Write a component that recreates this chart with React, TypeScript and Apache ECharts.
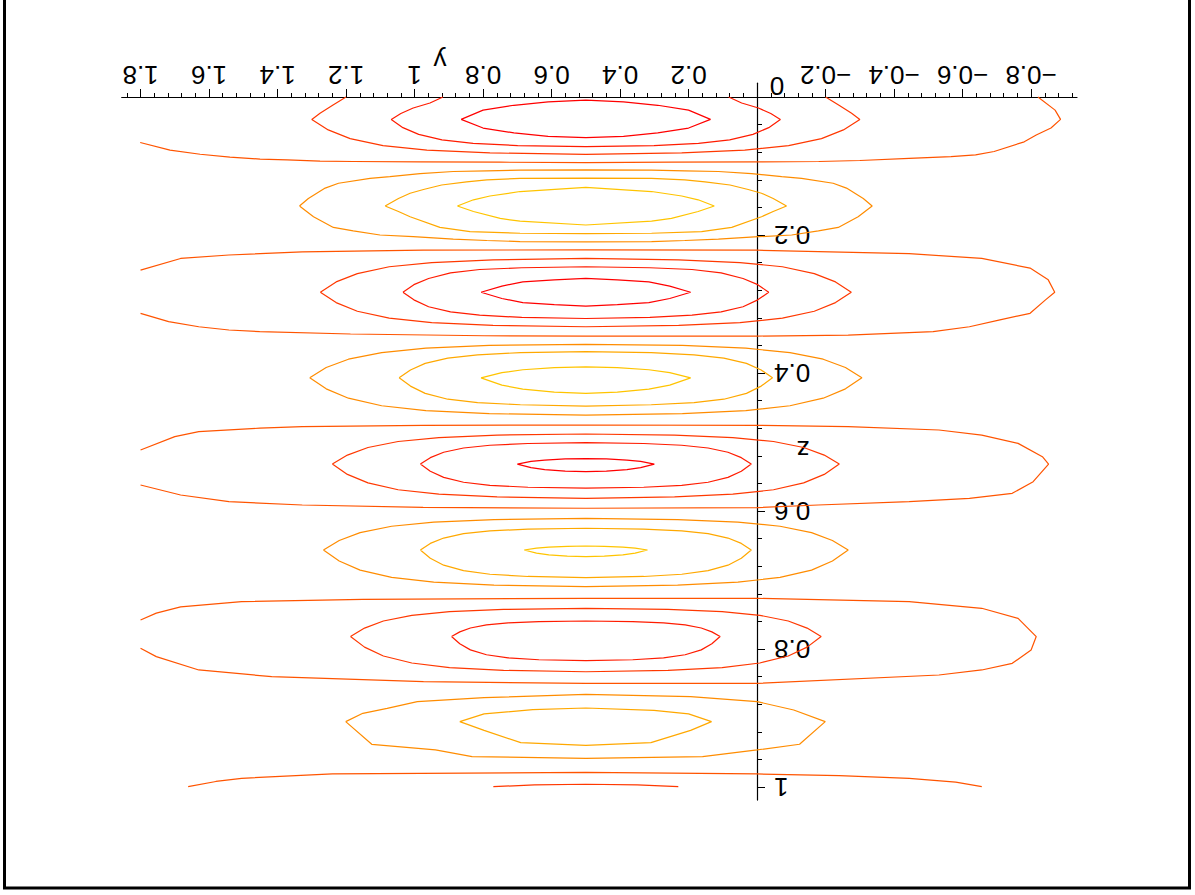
import React, { useEffect, useRef } from 'react';
import * as echarts from 'echarts';

const FONT = '"Liberation Sans", Arial, Helvetica, sans-serif';

// ---- axes (y horizontal, z vertical; whole plot shown rotated by 180 degrees)
const Y_MIN = -0.934;
const Y_MAX = 1.855;
const Z_MIN = -0.02;
const Z_MAX = 1.019;
const yMajorTicks = [-0.8, -0.6, -0.4, -0.2, 0, 0.2, 0.4, 0.6, 0.8, 1, 1.2, 1.4, 1.6, 1.8];
const yTickLabels = [-0.8, -0.6, -0.4, -0.2, 0.2, 0.4, 0.6, 0.8, 1, 1.2, 1.4, 1.6, 1.8];
const zMajorTicks = [0.2, 0.4, 0.6, 0.8, 1];
const zTickLabels = [0.2, 0.4, 0.6, 0.8, 1];
const yMinorTicks: number[] = [];
for (let i = -23; i <= 46; i++) yMinorTicks.push(+(i * 0.04).toFixed(2));
const zMinorTicks: number[] = [];
for (let i = 1; i <= 25; i++) zMinorTicks.push(+(i * 0.04).toFixed(2));

// ---- contour levels -> colours
const LEVEL_COLORS: Record<string, string> = {
  L1: '#ffc400',
  L2: '#ffa800',
  L3: '#ff8c00',
  L5: '#ff5400',
  L6: '#ff3800',
  L7: '#ff1c00',
  L8: '#ff0000',
};

// ---- contour polylines [y, z]
const B1_L8 = [[0.864,0.0325],[0.80,0.019],[0.71,0.012],[0.61,0.007],[0.5,0.0045],[0.39,0.007],[0.29,0.012],[0.20,0.019],[0.136,0.0325],[0.20,0.045],[0.29,0.052],[0.39,0.057],[0.5,0.059],[0.61,0.057],[0.71,0.052],[0.80,0.045],[0.864,0.0325]];
const B1_L7 = [[0.917,0],[0.955,0.0087],[1.004,0.016],[1.04,0.024],[1.068,0.0325],[1.034,0.0444],[0.988,0.0542],[0.92,0.0621],[0.829,0.0673],[0.699,0.0704],[0.5,0.072],[0.301,0.0704],[0.171,0.0673],[0.08,0.0621],[0.012,0.0542],[-0.034,0.0444],[-0.068,0.0325],[-0.04,0.024],[-0.004,0.016],[0.045,0.0087],[0.083,0]];
const B1_L6 = [[1.2,0],[1.238,0.0116],[1.276,0.0237],[1.3,0.0325],[1.252,0.0477],[1.188,0.0603],[1.092,0.0705],[0.964,0.077],[0.78,0.0811],[0.5,0.0831],[0.22,0.0811],[0.036,0.077],[-0.092,0.0705],[-0.188,0.0603],[-0.252,0.0477],[-0.3,0.0325],[-0.276,0.0237],[-0.238,0.0116],[-0.2,0]];
const B1_L5 = [[1.801,0.066],[1.714,0.077],[1.626,0.083],[1.539,0.087],[1.451,0.09],[1.372,0.091],[1.276,0.093],[1.18,0.0935],[0.984,0.094],[0.75,0.0945],[0.5,0.095],[0.25,0.0945],[0.0,0.094],[-0.18,0.0935],[-0.3,0.092],[-0.444,0.089],[-0.566,0.0865],[-0.638,0.084],[-0.692,0.079],[-0.78,0.065],[-0.815,0.055],[-0.858,0.045],[-0.886,0.0325],[-0.87,0.019],[-0.82,0]];

const B2_L3 = [[1.336,0.158],[1.31,0.147],[1.261,0.132],[1.222,0.125],[1.13,0.118],[1.072,0.1155],[0.984,0.111],[0.887,0.108],[0.789,0.107],[0.692,0.106],[0.5,0.1055],[0.308,0.106],[0.211,0.107],[0.113,0.108],[0.016,0.111],[-0.072,0.1155],[-0.13,0.118],[-0.222,0.125],[-0.261,0.132],[-0.31,0.147],[-0.336,0.158],[-0.295,0.1735],[-0.237,0.189],[-0.179,0.194],[-0.101,0.2],[-0.004,0.2025],[0.113,0.206],[0.211,0.208],[0.308,0.2095],[0.5,0.21],[0.692,0.2095],[0.789,0.208],[0.887,0.206],[1.004,0.2025],[1.101,0.2],[1.179,0.194],[1.237,0.189],[1.295,0.1735],[1.336,0.158]];
const B2_L2 = [[1.086,0.158],[1.047,0.147],[1.013,0.1395],[0.974,0.134],[0.921,0.1275],[0.848,0.123],[0.789,0.12],[0.692,0.118],[0.5,0.1175],[0.308,0.118],[0.211,0.12],[0.152,0.123],[0.079,0.1275],[0.026,0.134],[-0.013,0.1395],[-0.047,0.147],[-0.086,0.158],[-0.047,0.166],[-0.013,0.1735],[0.074,0.189],[0.162,0.195],[0.308,0.1975],[0.5,0.198],[0.692,0.1975],[0.838,0.195],[0.926,0.189],[1.013,0.1735],[1.047,0.166],[1.086,0.158]];
const B2_L1 = [[0.875,0.158],[0.828,0.149],[0.78,0.1435],[0.692,0.137],[0.5,0.131],[0.308,0.137],[0.22,0.1435],[0.172,0.149],[0.125,0.158],[0.172,0.166],[0.25,0.176],[0.308,0.18],[0.5,0.1855],[0.692,0.18],[0.75,0.176],[0.828,0.166],[0.875,0.158]];

const B3_L8 = [[0.806,0.283],[0.745,0.274],[0.684,0.268],[0.592,0.265],[0.5,0.263],[0.408,0.265],[0.316,0.268],[0.255,0.274],[0.194,0.283],[0.255,0.292],[0.316,0.298],[0.408,0.301],[0.5,0.303],[0.592,0.301],[0.684,0.298],[0.745,0.292],[0.806,0.283]];
const B3_L7 = [[1.034,0.283],[1.002,0.272],[0.959,0.263],[0.895,0.255],[0.81,0.25],[0.687,0.2475],[0.5,0.246],[0.313,0.2475],[0.19,0.25],[0.105,0.255],[0.041,0.263],[-0.002,0.272],[-0.034,0.283],[-0.002,0.294],[0.041,0.304],[0.105,0.3115],[0.19,0.316],[0.313,0.3195],[0.5,0.321],[0.687,0.3195],[0.81,0.316],[0.895,0.3115],[0.959,0.304],[1.002,0.294],[1.034,0.283]];
const B3_L6 = [[1.275,0.283],[1.229,0.268],[1.167,0.256],[1.074,0.246],[0.95,0.24],[0.771,0.236],[0.5,0.234],[0.229,0.236],[0.05,0.24],[-0.074,0.246],[-0.167,0.256],[-0.229,0.268],[-0.275,0.283],[-0.229,0.298],[-0.167,0.3105],[-0.074,0.3205],[0.05,0.327],[0.229,0.331],[0.5,0.333],[0.771,0.331],[0.95,0.327],[1.074,0.3205],[1.167,0.3105],[1.229,0.298],[1.275,0.283]];
const B3_L5 = [[1.8,0.251],[1.683,0.234],[1.542,0.229],[1.328,0.2245],[0.975,0.222],[0.5,0.2215],[0.0,0.222],[-0.444,0.227],[-0.656,0.234],[-0.797,0.248],[-0.85,0.265],[-0.869,0.283],[-0.842,0.294],[-0.797,0.3135],[-0.709,0.323],[-0.62,0.333],[-0.514,0.34],[-0.266,0.345],[0.0,0.3465],[0.5,0.3465],[0.797,0.346],[1.187,0.3435],[1.452,0.34],[1.542,0.3377],[1.63,0.333],[1.718,0.3256],[1.8,0.3135]];

const B4_L3 = [[1.306,0.407],[1.258,0.392],[1.193,0.38],[1.096,0.3705],[0.967,0.364],[0.782,0.36],[0.5,0.3585],[0.218,0.36],[0.033,0.364],[-0.096,0.3705],[-0.193,0.38],[-0.258,0.392],[-0.306,0.407],[-0.258,0.423],[-0.193,0.4365],[-0.096,0.4475],[0.033,0.4545],[0.218,0.459],[0.5,0.461],[0.782,0.459],[0.967,0.4545],[1.096,0.4475],[1.193,0.4365],[1.258,0.423],[1.306,0.407]];
const B4_L2 = [[1.045,0.407],[1.012,0.3956],[0.969,0.386],[0.903,0.3785],[0.816,0.3736],[0.691,0.3705],[0.5,0.369],[0.309,0.3705],[0.184,0.3736],[0.097,0.3785],[0.031,0.386],[-0.012,0.3956],[-0.045,0.407],[-0.012,0.419],[0.031,0.4295],[0.097,0.438],[0.184,0.443],[0.309,0.446],[0.5,0.448],[0.691,0.446],[0.816,0.443],[0.903,0.438],[0.969,0.4295],[1.012,0.419],[1.045,0.407]];
const B4_L1 = [[0.806,0.407],[0.745,0.3995],[0.684,0.3953],[0.592,0.3923],[0.5,0.391],[0.408,0.3923],[0.316,0.3953],[0.255,0.3995],[0.194,0.407],[0.255,0.4176],[0.316,0.4234],[0.408,0.4277],[0.5,0.4295],[0.592,0.4277],[0.684,0.4234],[0.745,0.4176],[0.806,0.407]];

const B5_L8 = [[0.7,0.532],[0.66,0.5282],[0.62,0.5262],[0.56,0.5246],[0.5,0.524],[0.44,0.5246],[0.38,0.5262],[0.34,0.5282],[0.3,0.532],[0.34,0.5372],[0.38,0.54],[0.44,0.5421],[0.5,0.543],[0.56,0.5421],[0.62,0.54],[0.66,0.5372],[0.7,0.532]];
const B5_L7 = [[0.983,0.532],[0.954,0.5227],[0.915,0.5149],[0.857,0.5087],[0.78,0.5047],[0.669,0.5022],[0.5,0.501],[0.331,0.5022],[0.22,0.5047],[0.143,0.5087],[0.085,0.5149],[0.046,0.5227],[0.017,0.532],[0.046,0.5425],[0.085,0.5513],[0.143,0.5583],[0.22,0.5628],[0.331,0.5656],[0.5,0.567],[0.669,0.5656],[0.78,0.5628],[0.857,0.5583],[0.915,0.5513],[0.954,0.5425],[0.983,0.532]];
const B5_L6 = [[1.24,0.532],[1.196,0.519],[1.136,0.508],[1.048,0.4993],[0.929,0.4936],[0.759,0.49],[0.5,0.4884],[0.241,0.49],[0.071,0.4936],[-0.048,0.4993],[-0.136,0.508],[-0.196,0.519],[-0.24,0.532],[-0.196,0.547],[-0.136,0.5593],[-0.048,0.5692],[0.071,0.5756],[0.241,0.5796],[0.5,0.5816],[0.759,0.5796],[0.929,0.5756],[1.048,0.5692],[1.136,0.5593],[1.196,0.547],[1.24,0.532]];
const B5_L5 = [[1.8,0.5116],[1.7,0.4923],[1.63,0.485],[1.452,0.48],[1.328,0.4778],[0.975,0.4758],[0.5,0.4754],[0.0,0.4758],[-0.266,0.4778],[-0.531,0.4826],[-0.656,0.49],[-0.762,0.502],[-0.833,0.5213],[-0.851,0.532],[-0.806,0.5575],[-0.745,0.5744],[-0.62,0.5816],[-0.444,0.5865],[-0.178,0.5913],[0.0,0.5952],[0.5,0.596],[0.975,0.5947],[1.328,0.5913],[1.542,0.5865],[1.683,0.5768],[1.8,0.5623]];

const B6_L3 = [[1.266,0.6565],[1.22,0.6427],[1.159,0.6313],[1.067,0.6221],[0.944,0.6161],[0.768,0.6124],[0.5,0.6106],[0.232,0.6124],[0.056,0.6161],[-0.067,0.6221],[-0.159,0.6313],[-0.22,0.6427],[-0.266,0.6565],[-0.22,0.6724],[-0.159,0.6857],[-0.067,0.6963],[0.056,0.7032],[0.232,0.7075],[0.5,0.7096],[0.768,0.7075],[0.944,0.7032],[1.067,0.6963],[1.159,0.6857],[1.22,0.6724],[1.266,0.6565]];
const B6_L2 = [[0.983,0.6565],[0.954,0.647],[0.915,0.6392],[0.857,0.6329],[0.78,0.6288],[0.669,0.6263],[0.5,0.625],[0.331,0.6263],[0.22,0.6288],[0.143,0.6329],[0.085,0.6392],[0.046,0.647],[0.017,0.6565],[0.046,0.6685],[0.085,0.6785],[0.143,0.6865],[0.22,0.6917],[0.331,0.6949],[0.5,0.6965],[0.669,0.6949],[0.78,0.6917],[0.857,0.6865],[0.915,0.6785],[0.954,0.6685],[0.983,0.6565]];
const B6_L1 = [[0.68,0.6565],[0.644,0.6538],[0.608,0.6523],[0.554,0.6512],[0.5,0.6507],[0.446,0.6512],[0.392,0.6523],[0.356,0.6538],[0.32,0.6565],[0.356,0.661],[0.392,0.6636],[0.446,0.6654],[0.5,0.6662],[0.554,0.6654],[0.608,0.6636],[0.644,0.661],[0.68,0.6565]];

const B7_L7 = [[0.892,0.782],[0.868,0.7752],[0.837,0.7696],[0.79,0.765],[0.727,0.7621],[0.637,0.7603],[0.5,0.7594],[0.363,0.7603],[0.273,0.7621],[0.21,0.765],[0.163,0.7696],[0.132,0.7752],[0.108,0.782],[0.132,0.7925],[0.163,0.8013],[0.21,0.8083],[0.273,0.8128],[0.363,0.8156],[0.5,0.817],[0.637,0.8156],[0.727,0.8128],[0.79,0.8083],[0.837,0.8013],[0.868,0.7925],[0.892,0.782]];
const B7_L6 = [[1.187,0.782],[1.146,0.7697],[1.091,0.7594],[1.008,0.7512],[0.898,0.7459],[0.74,0.7426],[0.5,0.741],[0.26,0.7426],[0.102,0.7459],[-0.008,0.7512],[-0.091,0.7594],[-0.146,0.7697],[-0.187,0.782],[-0.146,0.7973],[-0.091,0.8101],[-0.008,0.8203],[0.102,0.8269],[0.26,0.831],[0.5,0.833],[0.74,0.831],[0.898,0.8269],[1.008,0.8203],[1.091,0.8101],[1.146,0.7973],[1.187,0.782]];
const B7_L5 = [[1.8,0.758],[1.754,0.748],[1.683,0.739],[1.505,0.7314],[1.151,0.728],[0.5,0.7266],[0.0,0.7266],[-0.444,0.7314],[-0.656,0.741],[-0.762,0.7556],[-0.815,0.782],[-0.8,0.8014],[-0.745,0.8208],[-0.656,0.8304],[-0.531,0.8377],[0.0,0.8498],[0.5,0.8498],[0.974,0.8474],[1.417,0.8401],[1.63,0.8304],[1.754,0.8111],[1.8,0.799]];

const B8_L3 = [[1.201,0.9053],[1.151,0.8932],[1.08,0.886],[0.992,0.8763],[0.797,0.8705],[0.5,0.8657],[0.194,0.8691],[0.0,0.8763],[-0.107,0.8884],[-0.199,0.9053],[-0.124,0.9381],[0.0,0.9463],[0.159,0.956],[0.5,0.9584],[0.832,0.956],[0.939,0.9463],[1.125,0.9381],[1.201,0.9053]];
const B8_L2 = [[0.868,0.9053],[0.797,0.894],[0.655,0.888],[0.5,0.8855],[0.301,0.889],[0.2,0.894],[0.133,0.9053],[0.194,0.918],[0.31,0.9357],[0.5,0.9396],[0.69,0.9357],[0.797,0.918],[0.868,0.9053]];

const B9_L5 = [[1.661,0.9995],[1.58,0.992],[1.505,0.9874],[1.24,0.9811],[0.5,0.9787],[0.0,0.9811],[-0.24,0.9835],[-0.444,0.9874],[-0.58,0.993],[-0.656,0.9995]];
const B9_L6 = [[0.77,0.9995],[0.65,0.997],[0.5,0.996],[0.35,0.997],[0.23,0.9995]];

const CONTOURS: { level: string; data: number[][] }[] = [
  { level: 'L8', data: B1_L8 }, { level: 'L7', data: B1_L7 }, { level: 'L6', data: B1_L6 }, { level: 'L5', data: B1_L5 },
  { level: 'L3', data: B2_L3 }, { level: 'L2', data: B2_L2 }, { level: 'L1', data: B2_L1 },
  { level: 'L8', data: B3_L8 }, { level: 'L7', data: B3_L7 }, { level: 'L6', data: B3_L6 }, { level: 'L5', data: B3_L5 },
  { level: 'L3', data: B4_L3 }, { level: 'L2', data: B4_L2 }, { level: 'L1', data: B4_L1 },
  { level: 'L8', data: B5_L8 }, { level: 'L7', data: B5_L7 }, { level: 'L6', data: B5_L6 }, { level: 'L5', data: B5_L5 },
  { level: 'L3', data: B6_L3 }, { level: 'L2', data: B6_L2 }, { level: 'L1', data: B6_L1 },
  { level: 'L7', data: B7_L7 }, { level: 'L6', data: B7_L6 }, { level: 'L5', data: B7_L5 },
  { level: 'L3', data: B8_L3 }, { level: 'L2', data: B8_L2 },
  { level: 'L5', data: B9_L5 }, { level: 'L6', data: B9_L6 },
];

const fmt = (v: number) => (v < 0 ? '\u2212' + String(-v) : String(v));

// grid geometry
const GRID = { left: 121.7, right: 118, top: 83.2, bottom: 94.9 };
const X_AXIS_OFFSET = -13.8; // moves the y-axis line down onto z = 0
const Y_AXIS_OFFSET = -320; // moves the z-axis line left onto y = 0

export default function App() {
  const ref = useRef<HTMLDivElement>(null);
  useEffect(() => {
    if (!ref.current) return;
    const chart = echarts.init(ref.current, undefined, { renderer: 'svg' });
    const axisLineStyle = { color: '#000', width: 1.2 };
    const labelStyle = { fontSize: 26, fontFamily: FONT, color: '#000' };
    const option: any = {
      animation: false,
      backgroundColor: '#ffffff',
      grid: { ...GRID, containLabel: false, outerBoundsMode: 'none' },
      xAxis: [
        {
          type: 'value', position: 'top', offset: X_AXIS_OFFSET, inverse: true, min: Y_MIN, max: Y_MAX,
          splitLine: { show: false },
          axisLine: { show: true, onZero: false, lineStyle: axisLineStyle },
          axisTick: { show: true, customValues: yMajorTicks, length: 8, lineStyle: { color: '#000', width: 1 } },
          axisLabel: { show: true, customValues: yTickLabels, rotate: 180, margin: 9, formatter: fmt, ...labelStyle },
        },
        {
          type: 'value', position: 'top', offset: X_AXIS_OFFSET, inverse: true, min: Y_MIN, max: Y_MAX,
          splitLine: { show: false },
          axisLine: { show: false, onZero: false },
          axisTick: { show: true, customValues: yMinorTicks, length: 4, lineStyle: { color: '#000', width: 1 } },
          axisLabel: { show: false },
        },
      ],
      yAxis: [
        {
          type: 'value', position: 'right', offset: Y_AXIS_OFFSET, inverse: true, min: Z_MIN, max: Z_MAX,
          splitLine: { show: false },
          axisLine: { show: true, onZero: false, lineStyle: axisLineStyle },
          axisTick: { show: true, customValues: zMajorTicks, length: 8, lineStyle: { color: '#000', width: 1 } },
          axisLabel: { show: true, customValues: zTickLabels, rotate: 180, margin: 17, formatter: fmt, ...labelStyle },
        },
        {
          type: 'value', position: 'right', offset: Y_AXIS_OFFSET, inverse: true, min: Z_MIN, max: Z_MAX,
          splitLine: { show: false },
          axisLine: { show: false, onZero: false },
          axisTick: { show: true, customValues: zMinorTicks, length: 5, lineStyle: { color: '#000', width: 1 } },
          axisLabel: { show: false },
        },
      ],
      series: CONTOURS.map((c) => ({
        type: 'line',
        xAxisIndex: 0,
        yAxisIndex: 0,
        data: c.data,
        showSymbol: false,
        symbol: 'none',
        silent: true,
        lineStyle: { color: LEVEL_COLORS[c.level], width: 1.2 },
        z: 1,
      })),
      graphic: [
        { type: 'rect', silent: true, shape: { x: 4.5, y: -10, width: 1185, height: 898 }, style: { fill: 'none', stroke: '#000', lineWidth: 3 } },
        { type: 'text', silent: true, x: 440, y: 61, rotation: Math.PI, style: { text: 'y', fontSize: 26, fontFamily: FONT, fill: '#000', align: 'center', verticalAlign: 'middle' } },
        { type: 'text', silent: true, x: 803, y: 450, rotation: Math.PI, style: { text: 'z', fontSize: 26, fontFamily: FONT, fill: '#000', align: 'center', verticalAlign: 'middle' } },
        { type: 'text', silent: true, x: 777, y: 86, rotation: Math.PI, style: { text: '0', fontSize: 26, fontFamily: FONT, fill: '#000', align: 'center', verticalAlign: 'middle' } },
      ],
    };
    chart.setOption(option);
    return () => chart.dispose();
  }, []);
  return (
    <div
      ref={ref}
      style={{ position: 'absolute', left: 0, top: 0, width: 1195, height: 895, background: '#fff' }}
    />
  );
}
